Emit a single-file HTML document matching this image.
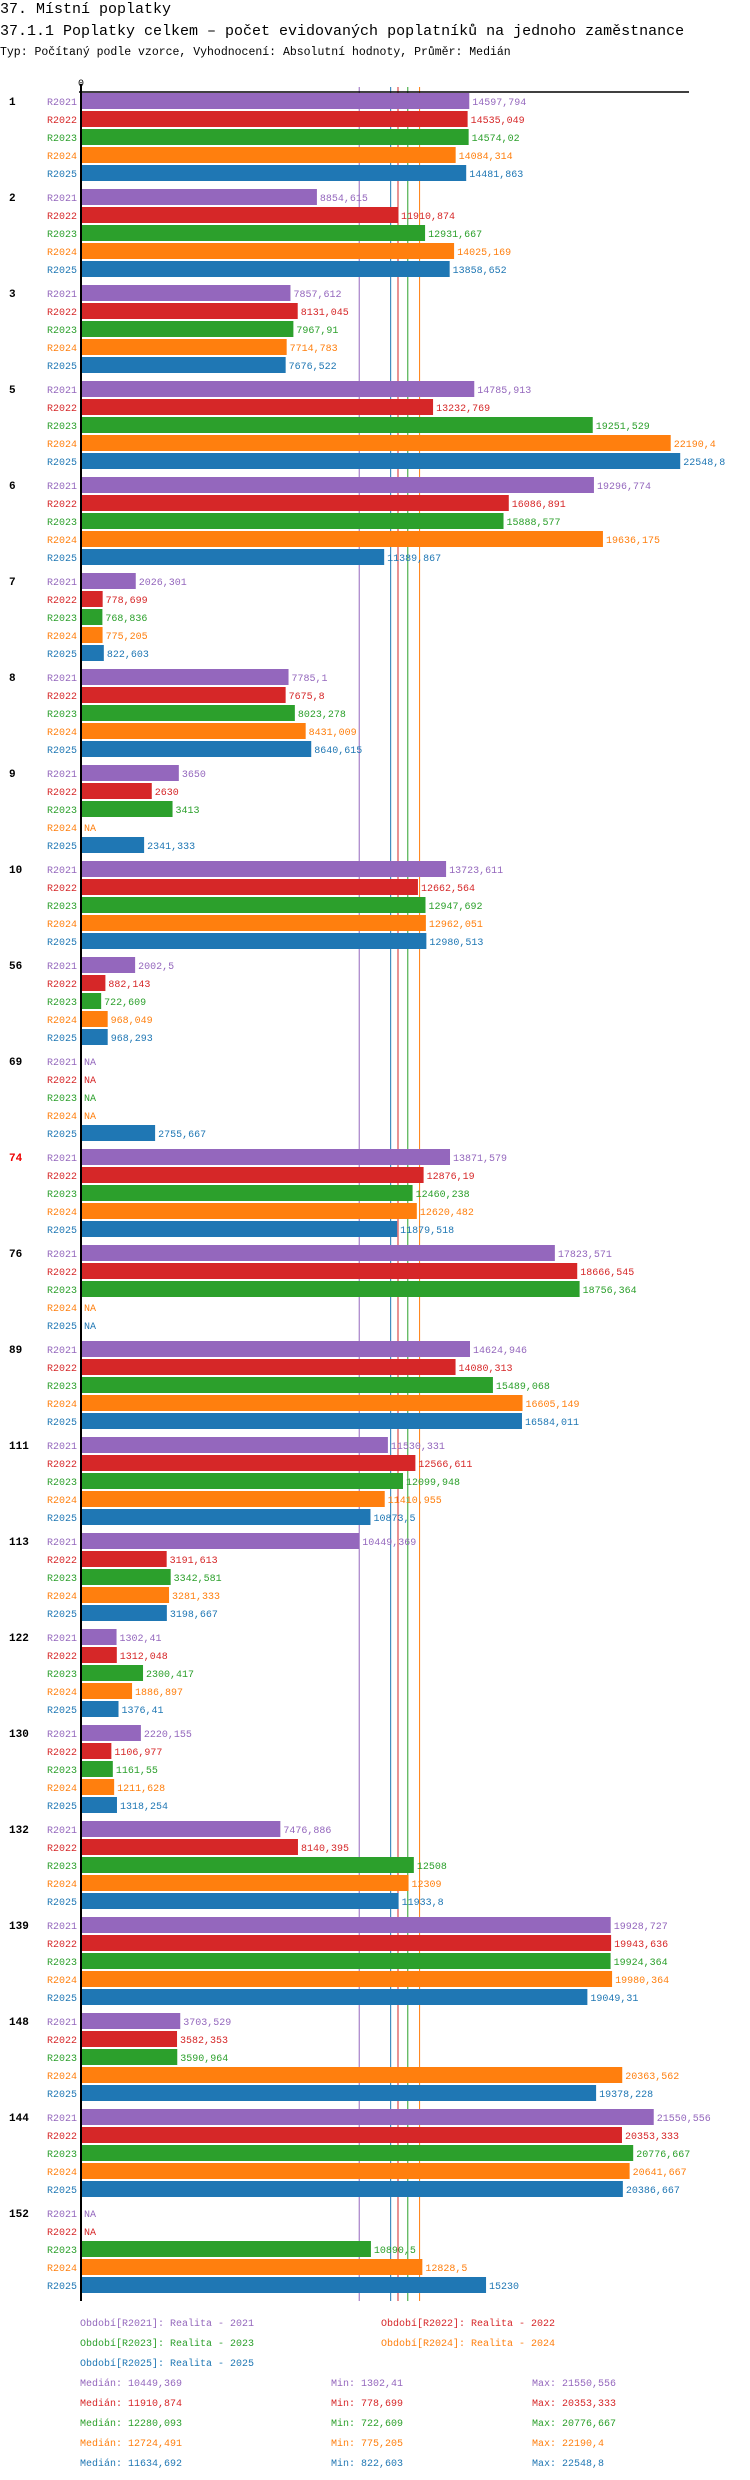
<!DOCTYPE html>
<html><head><meta charset="utf-8">
<style>
html,body{margin:0;padding:0;background:#fff;width:750px;height:2480px;overflow:hidden}
svg{display:block}
text{font-family:"Liberation Mono","DejaVu Sans Mono",monospace}
</style></head>
<body>
<svg id="chart" width="750" height="2480" xmlns="http://www.w3.org/2000/svg">
<text x="0" y="13" font-size="15" fill="#000">37. Místní poplatky</text>
<text x="0" y="35" font-size="15" fill="#000">37.1.1 Poplatky celkem – počet evidovaných poplatníků na jednoho zaměstnance</text>
<text x="0" y="55" font-size="11.5" fill="#000">Typ: Počítaný podle vzorce, Vyhodnocení: Absolutní hodnoty, Průměr: Medián</text>
<g id="plot"></g>
</svg>
<script>
const categories = ["1","2","3","5","6","7","8","9","10","56","69","74","76","89","111","113","122","130","132","139","148","144","152"];
const series = ["R2021","R2022","R2023","R2024","R2025"];
const r2021 = [14597.794,8854.615,7857.612,14785.913,19296.774,2026.301,7785.1,3650,13723.611,2002.5,null,13871.579,17823.571,14624.946,11530.331,10449.369,1302.41,2220.155,7476.886,19928.727,3703.529,21550.556,null];
const r2022 = [14535.049,11910.874,8131.045,13232.769,16086.891,778.699,7675.8,2630,12662.564,882.143,null,12876.19,18666.545,14080.313,12566.611,3191.613,1312.048,1106.977,8140.395,19943.636,3582.353,20353.333,null];
const r2023 = [14574.02,12931.667,7967.91,19251.529,15888.577,768.836,8023.278,3413,12947.692,722.609,null,12460.238,18756.364,15489.068,12099.948,3342.581,2300.417,1161.55,12508,19924.364,3590.964,20776.667,10890.5];
const r2024 = [14084.314,14025.169,7714.783,22190.4,19636.175,775.205,8431.009,null,12962.051,968.049,null,12620.482,null,16605.149,11410.955,3281.333,1886.897,1211.628,12309,19980.364,20363.562,20641.667,12828.5];
const r2025 = [14481.863,13858.652,7676.522,22548.8,11389.867,822.603,8640.615,2341.333,12980.513,968.293,2755.667,11879.518,null,16584.011,10873.5,3198.667,1376.41,1318.254,11933.8,19049.31,19378.228,20386.667,15230];
const medians = [10449.369,11910.874,12280.093,12724.491,11634.692];
const mins = ["1302,41","778,699","722,609","775,205","822,603"];
const maxs = ["21550,556","20353,333","20776,667","22190,4","22548,8"];
const medianLabels = ["10449,369","11910,874","12280,093","12724,491","11634,692"];
const legendNames = ["Období[R2021]: Realita - 2021","Období[R2022]: Realita - 2022","Období[R2023]: Realita - 2023","Období[R2024]: Realita - 2024","Období[R2025]: Realita - 2025"];

const colors = ["#9467bd","#d62728","#2ca02c","#ff7f0e","#1f77b4"];
const data = [r2021,r2022,r2023,r2024,r2025];
const NS = "http://www.w3.org/2000/svg";
const g = document.getElementById("plot");
const X0 = 82, K = 0.02653;
const xs = v => X0 + v*K;
const groupY = i => 93 + i*96;
const barY = (i,j) => groupY(i) + j*18;
const fmt = v => String(v).replace(".", ",");
function mk(tag, attrs){const e=document.createElementNS(NS,tag);for(const k in attrs)e.setAttribute(k,attrs[k]);g.appendChild(e);return e;}

// median lines
medians.forEach((m,j)=>{
  const l = mk("line",{x1:xs(m),x2:xs(m),y1:87,y2:2301,stroke:colors[j],"stroke-width":1});
  
  
});
// axis
const ax = mk("line",{x1:79,x2:689,y1:92,y2:92,stroke:"#000","stroke-width":1.5});


const ay = mk("line",{x1:81,x2:81,y1:84,y2:2301,stroke:"#000","stroke-width":2});


const z = mk("text",{x:81,y:86,"font-size":10,"text-anchor":"middle",fill:"#000"});
z.textContent="0";



categories.forEach((c,i)=>{
  const t = mk("text",{x:9,y:groupY(i)+12,"font-size":11,"font-weight":"bold",fill:c==="74"?"#e00":"#000"});
  t.textContent=c;
  
  
  series.forEach((s,j)=>{
    const y = barY(i,j), v = data[j][i];
    const sl = mk("text",{x:77,y:y+12,"font-size":10,"text-anchor":"end",fill:colors[j]});
    sl.textContent=s;
    
    
    let endX = X0+2;
    if(v!==null){
      const r = mk("rect",{x:X0,y:y,width:xs(v)-X0,height:16,fill:colors[j]});
      
      
      endX = xs(v)+3;
    }
    const vl = mk("text",{x:endX,y:y+12,"font-size":10,fill:colors[j]});
    vl.textContent = v===null ? "NA" : fmt(v);
    
    
  });
});

// legend
const legPos = [[80,2326],[381,2326],[80,2346],[381,2346],[80,2366]];
legendNames.forEach((n,j)=>{
  const t = mk("text",{x:legPos[j][0],y:legPos[j][1],"font-size":10,fill:colors[j]});
  t.textContent=n;
  
  
});
series.forEach((s,j)=>{
  const y = 2386 + j*20;
  const a = mk("text",{x:80,y:y,"font-size":10,fill:colors[j]});
  a.textContent="Medián: "+medianLabels[j];
  
  
  const b = mk("text",{x:331,y:y,"font-size":10,fill:colors[j]});
  b.textContent="Min: "+mins[j];
  
  
  const c = mk("text",{x:532,y:y,"font-size":10,fill:colors[j]});
  c.textContent="Max: "+maxs[j];
  
  
});
</script>
</body></html>
